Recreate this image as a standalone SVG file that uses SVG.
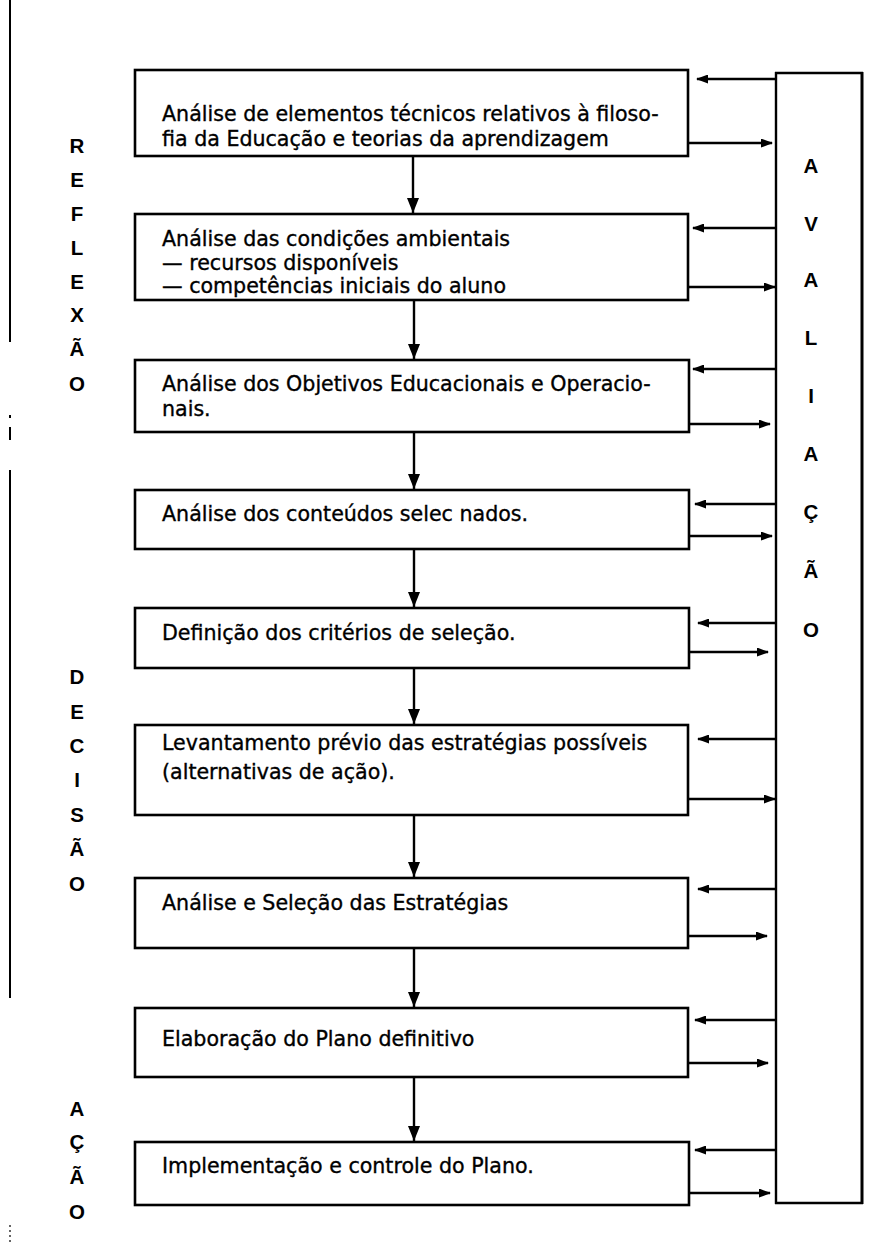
<svg xmlns="http://www.w3.org/2000/svg" width="888" height="1257" viewBox="0 0 888 1257">
<style>
.box{fill:#fff;stroke:#000;stroke-width:2.6}
.t{font-family:"DejaVu Sans","Liberation Sans",sans-serif;font-size:20.6px;fill:#000;stroke:#000;stroke-width:0.35}
.l{font-family:"Liberation Sans",Arial,sans-serif;font-size:20.5px;font-weight:bold;fill:#000;text-anchor:middle}
.c{stroke:#000;stroke-width:2.4;fill:none}
.side{stroke:#000;stroke-width:2.4;fill:none}
</style>
<defs>
<marker id="ah" viewBox="0 0 12 9" refX="11" refY="4.5" markerWidth="12" markerHeight="9" markerUnits="userSpaceOnUse" orient="auto"><path d="M0,0 L12,4.5 L0,9 z" fill="#000"/></marker>
<marker id="dh" viewBox="0 0 15 12" refX="15" refY="6" markerWidth="15" markerHeight="12" markerUnits="userSpaceOnUse" orient="auto"><path d="M0,0 L15,6 L0,12 z" fill="#000"/></marker>
</defs>
<rect width="888" height="1257" fill="#fff"/>

<g id="margin-line" stroke="#000" stroke-width="2">
<line x1="10" y1="0" x2="10" y2="342"/>
<line x1="10" y1="415" x2="10" y2="418"/>
<line x1="10" y1="427" x2="10" y2="440"/>
<line x1="10" y1="470" x2="10" y2="998"/>
<line x1="10" y1="1225" x2="10" y2="1245" stroke-width="1.2" stroke-dasharray="2,3"/>
</g>

<g id="label-reflexao">
<text class="l" x="77" y="153">R</text>
<text class="l" x="77" y="187">E</text>
<text class="l" x="77" y="221">F</text>
<text class="l" x="77" y="255">L</text>
<text class="l" x="77" y="289">E</text>
<text class="l" x="77" y="322">X</text>
<text class="l" x="77" y="356">Ã</text>
<text class="l" x="77" y="391">O</text>
</g>

<g id="label-decisao">
<text class="l" x="77" y="684">D</text>
<text class="l" x="77" y="719">E</text>
<text class="l" x="77" y="753">C</text>
<text class="l" x="77" y="787">I</text>
<text class="l" x="77" y="822">S</text>
<text class="l" x="77" y="856">Ã</text>
<text class="l" x="77" y="891">O</text>
</g>

<g id="label-acao">
<text class="l" x="77" y="1116">A</text>
<text class="l" x="77" y="1149">Ç</text>
<text class="l" x="77" y="1184">Ã</text>
<text class="l" x="77" y="1219">O</text>
</g>

<g id="avaliacao">
<rect x="776" y="73" width="86" height="1130" fill="#fff" stroke="none"/>
<line x1="776" y1="72" x2="776" y2="1204" stroke="#000" stroke-width="2.4"/>
<line x1="862" y1="72" x2="862" y2="1204" stroke="#000" stroke-width="3"/>
<line x1="775" y1="73" x2="863" y2="73" stroke="#000" stroke-width="2.6"/>
<line x1="775" y1="1203" x2="863" y2="1203" stroke="#000" stroke-width="2.6"/>
<text class="l" x="811" y="173">A</text>
<text class="l" x="811" y="231">V</text>
<text class="l" x="811" y="287">A</text>
<text class="l" x="811" y="345">L</text>
<text class="l" x="811" y="403">I</text>
<text class="l" x="811" y="461">A</text>
<text class="l" x="811" y="519">Ç</text>
<text class="l" x="811" y="578">Ã</text>
<text class="l" x="811" y="637">O</text>
</g>

<g id="n1">
<rect class="box" x="135" y="70" width="553" height="86"/>
<text class="t" x="162" y="121">Análise de elementos técnicos relativos à filoso-</text>
<text class="t" x="162" y="146">fia da Educação e teorias da aprendizagem</text>
</g>
<g id="n2">
<rect class="box" x="135" y="214" width="553" height="86"/>
<text class="t" x="162" y="246">Análise das condições ambientais</text>
<text class="t" x="162" y="270">— recursos disponíveis</text>
<text class="t" x="162" y="293">— competências iniciais do aluno</text>
</g>
<g id="n3">
<rect class="box" x="135" y="360" width="554" height="72"/>
<text class="t" x="162" y="391">Análise dos Objetivos Educacionais e Operacio-</text>
<text class="t" x="162" y="416">nais.</text>
</g>
<g id="n4">
<rect class="box" x="135" y="490" width="554" height="59"/>
<text class="t" x="162" y="521">Análise dos conteúdos selec  nados.</text>
</g>
<g id="n5">
<rect class="box" x="135" y="608" width="554" height="60"/>
<text class="t" x="162" y="640">Definição dos critérios de seleção.</text>
</g>
<g id="n6">
<rect class="box" x="135" y="725" width="553" height="90"/>
<text class="t" x="162" y="750">Levantamento prévio das estratégias possíveis</text>
<text class="t" x="162" y="779">(alternativas de ação).</text>
</g>
<g id="n7">
<rect class="box" x="135" y="878" width="553" height="70"/>
<text class="t" x="162" y="910">Análise e Seleção das Estratégias</text>
</g>
<g id="n8">
<rect class="box" x="135" y="1008" width="553" height="69"/>
<text class="t" x="162" y="1046">Elaboração do Plano definitivo</text>
</g>
<g id="n9">
<rect class="box" x="135" y="1142" width="554" height="63"/>
<text class="t" x="162" y="1173">Implementação e controle do Plano.</text>
</g>

<g id="connectors">
<line class="c" x1="413" y1="157" x2="413" y2="213" stroke-width="3.2" marker-end="url(#dh)"/>
<line class="c" x1="414" y1="301" x2="414" y2="359" marker-end="url(#dh)"/>
<line class="c" x1="414" y1="433" x2="414" y2="489" marker-end="url(#dh)"/>
<line class="c" x1="414" y1="550" x2="414" y2="607" marker-end="url(#dh)"/>
<line class="c" x1="414" y1="669" x2="414" y2="724" marker-end="url(#dh)"/>
<line class="c" x1="414" y1="816" x2="414" y2="877" marker-end="url(#dh)"/>
<line class="c" x1="414" y1="949" x2="414" y2="1007" marker-end="url(#dh)"/>
<line class="c" x1="414" y1="1078" x2="414" y2="1141" stroke-width="3" marker-end="url(#dh)"/>

<line class="side" x1="776" y1="79" x2="697" y2="79" marker-end="url(#ah)"/>
<line class="side" x1="689" y1="143" x2="772" y2="143" marker-end="url(#ah)"/>
<line class="side" x1="776" y1="228" x2="693" y2="228" marker-end="url(#ah)"/>
<line class="side" x1="689" y1="287" x2="775" y2="287" marker-end="url(#ah)"/>
<line class="side" x1="776" y1="369" x2="693" y2="369" marker-end="url(#ah)"/>
<line class="side" x1="690" y1="424" x2="770" y2="424" marker-end="url(#ah)"/>
<line class="side" x1="776" y1="504" x2="695" y2="504" marker-end="url(#ah)"/>
<line class="side" x1="690" y1="536" x2="772" y2="536" marker-end="url(#ah)"/>
<line class="side" x1="776" y1="623" x2="698" y2="623" marker-end="url(#ah)"/>
<line class="side" x1="690" y1="652" x2="768" y2="652" marker-end="url(#ah)"/>
<line class="side" x1="776" y1="739" x2="698" y2="739" marker-end="url(#ah)"/>
<line class="side" x1="689" y1="799" x2="775" y2="799" marker-end="url(#ah)"/>
<line class="side" x1="776" y1="889" x2="698" y2="889" marker-end="url(#ah)"/>
<line class="side" x1="689" y1="936" x2="767" y2="936" marker-end="url(#ah)"/>
<line class="side" x1="776" y1="1020" x2="695" y2="1020" marker-end="url(#ah)"/>
<line class="side" x1="689" y1="1063" x2="768" y2="1063" marker-end="url(#ah)"/>
<line class="side" x1="776" y1="1150" x2="695" y2="1150" marker-end="url(#ah)"/>
<line class="side" x1="690" y1="1193" x2="770" y2="1193" marker-end="url(#ah)"/>
</g>
</svg>
